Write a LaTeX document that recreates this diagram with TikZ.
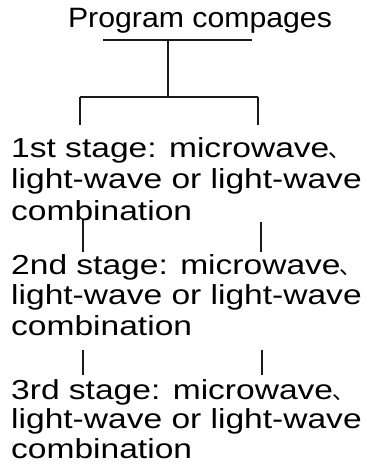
\documentclass[tikz,border=0pt]{standalone}
\usepackage{fontspec}
\setmainfont{Liberation Sans}[FakeStretch=1.22]
\newfontfamily\titlefont{Liberation Sans}[FakeStretch=1.08]
\newfontfamily\cjk{Noto Sans CJK SC}
\newcommand{\cjkcomma}{\rlap{\kern-1pt{\cjk\fontsize{22}{24}\selectfont 、}}}
\begin{document}
\begin{tikzpicture}[x=1pt,y=-1pt,
  txt/.style={inner sep=0pt,anchor=base west,font=\fontsize{27.5}{30}\selectfont,text=black},
  ttl/.style={inner sep=0pt,anchor=base,font=\titlefont\fontsize{28}{30}\selectfont,text=black},
  conn/.style={line width=2pt,draw=black!90}]
\useasboundingbox (0,0) rectangle (366,470);
\node[ttl] (title) at (200,28) {Program compages};
% block 1
\node[txt] (a1) at (11,158) {1st stage: microwave\cjkcomma};
\node[txt] (a2) at (11,189) {light-wave or light-wave};
\node[txt] (a3) at (11,220) {combination};
% block 2
\node[txt] (b1) at (11,274) {2nd stage: microwave\cjkcomma};
\node[txt] (b2) at (11,304) {light-wave or light-wave};
\node[txt] (b3) at (11,335) {combination};
% block 3
\node[txt] (c1) at (11,399) {3rd stage: microwave\cjkcomma};
\node[txt] (c2) at (11,428) {light-wave or light-wave};
\node[txt] (c3) at (11,458) {combination};
% tree
\coordinate (ul) at (103,40);
\coordinate (ur) at (252,40);
\coordinate (tm) at (168,40);
\coordinate (bm) at (168,97);
\coordinate (bl) at (80,97);
\coordinate (br) at (258,97);
\coordinate (dl) at (80,125);
\coordinate (dr) at (258,125);
\draw[conn] (ul) -- (ur);
\draw[conn] (tm) -- (bm);
\draw[conn] (bl) -- (br);
\draw[conn] (bl) -- (dl);
\draw[conn] (br) -- (dr);
% bars between blocks
\coordinate (l1t) at (83,220);
\coordinate (l1b) at (83,252);
\coordinate (r1t) at (261,222);
\coordinate (r1b) at (261,252);
\coordinate (l2t) at (83,350);
\coordinate (l2b) at (83,375);
\coordinate (r2t) at (262,350);
\coordinate (r2b) at (262,375);
\draw[conn] (l1t) -- (l1b);
\draw[conn] (r1t) -- (r1b);
\draw[conn] (l2t) -- (l2b);
\draw[conn] (r2t) -- (r2b);
\end{tikzpicture}
\end{document}
